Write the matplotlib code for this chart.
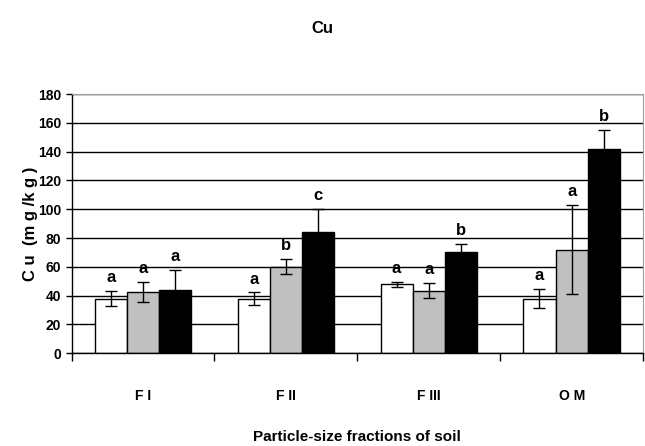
#!/usr/bin/env python3

import numpy as np
import matplotlib
matplotlib.use("Agg")
import matplotlib.pyplot as plt
from matplotlib.ticker import FixedLocator

# data
fractions = ["F I", "F II", "F III", "O M"]
white_mean = [38, 38, 48, 38]
white_err = [5.5, 4.3, 1.8, 6.7]
gray_mean = [42.5, 60, 43.5, 72]
gray_err = [7, 5.3, 5.4, 31]
black_mean = [44, 84, 70, 142]
black_err = [14, 16.5, 6, 13]
white_letters = ["a", "a", "a", "a"]
gray_letters = ["a", "b", "a", "a"]
black_letters = ["a", "c", "b", "b"]


def main() -> int:
    plt.rcParams['font.family'] = ['Liberation Sans Narrow', 'Liberation Sans', 'DejaVu Sans']
    plt.rcParams['font.weight'] = 'bold'

    fig = plt.figure(figsize=(6.45, 4.46), dpi=100, facecolor='w')
    ax = fig.add_axes([0.111, 0.208, 0.886, 0.581])

    x = np.arange(len(fractions))
    w = 0.225
    series = [
        (white_mean, white_err, white_letters, 'white', -w),
        (gray_mean, gray_err, gray_letters, '#c0c0c0', 0),
        (black_mean, black_err, black_letters, 'black', w),
    ]

    for mean, err, letters, color, off in series:
        ax.bar(x + off, mean, w, color=color, edgecolor='black', linewidth=1, zorder=2)
        ax.errorbar(x + off, mean, yerr=err, fmt='none', ecolor='black',
                    elinewidth=1, capsize=4, capthick=1, zorder=3)
        # significance letters above the error bars
        for xi, m, e, lt in zip(x + off, mean, err, letters):
            ax.text(xi, m + e + 4, lt, ha='center', va='bottom', fontsize=12,
                    fontweight='bold')

    ax.set_xlim(-0.5, len(fractions) - 0.5)
    ax.set_ylim(0, 180)
    ax.set_yticks(np.arange(0, 181, 20))
    ax.yaxis.grid(True, color='black', linewidth=1, zorder=0)
    ax.set_axisbelow(True)

    ax.set_xticks(x)
    ax.set_xticklabels(fractions, fontsize=10, fontweight='bold')
    ax.tick_params(axis='x', which='major', length=0, pad=26)
    ax.xaxis.set_minor_locator(FixedLocator(np.arange(-0.5, len(fractions), 1)))
    ax.tick_params(axis='x', which='minor', length=6, width=1, direction='out')
    ax.tick_params(axis='y', length=4, width=1, labelsize=10)
    for lbl in ax.get_yticklabels():
        lbl.set_fontweight('bold')

    ax.spines['top'].set_color('#a0a0a0')
    ax.spines['right'].set_color('#a0a0a0')
    ax.spines['left'].set_linewidth(1)
    ax.spines['bottom'].set_linewidth(1)

    ax.set_ylabel("C u  (m g /k g )", fontsize=12, fontweight='bold', labelpad=0)
    # x label is centred under the plot area, not the figure
    fig.text(0.554, 0.02, "Particle-size fractions of soil", ha='center', va='center',
             fontsize=11, fontweight='bold')
    fig.text(0.5, 0.937, "Cu", ha='center', va='center', fontsize=12, fontweight='bold')

    fig.savefig("out.png", dpi=100)
    return 0


if __name__ == "__main__":
    main()
